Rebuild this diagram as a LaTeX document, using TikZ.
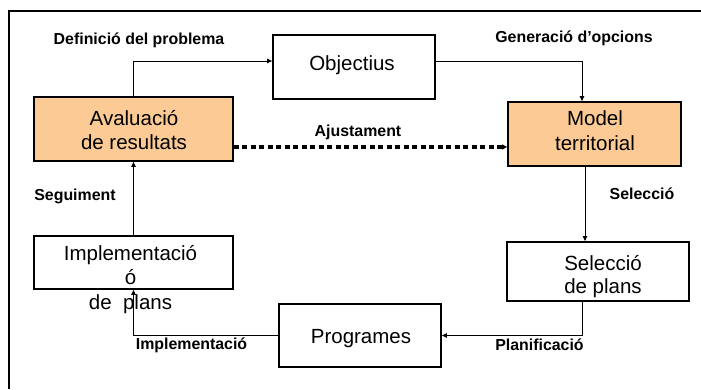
\documentclass[tikz,border=0pt]{standalone}
\usepackage{fontspec}
\setmainfont{Liberation Sans}
\usetikzlibrary{arrows.meta}
\definecolor{boxorange}{HTML}{FCCB95}
\tikzset{
  stagebox/.style={draw=black, line width=1.8pt, inner sep=0pt},
  stagetext/.style={align=center, inner sep=0pt, anchor=base,
    font=\fontsize{20.5}{24}\selectfont},
  flowlabel/.style={font=\fontsize{15.9}{19}\selectfont\bfseries, inner sep=0pt},
  flow/.style={line width=1pt, -{Triangle[length=5pt,width=4.5pt]}},
  adjust/.style={line width=3.2pt, dash pattern=on 5pt off 3.5pt,
    -{Triangle[length=5pt,width=5pt]}}
}
\begin{document}
\begin{tikzpicture}[x=1pt, y=-1pt]
  \useasboundingbox (0,0) rectangle (701,389);
  % outer frame, open to the right and bottom
  \draw[line width=1.6pt] (701,11) -- (9,11) -- (9,389);

  % stage boxes
  \node[stagebox, minimum width=162pt, minimum height=64pt] (obj) at (354,67) {};
  \node[stagebox, fill=boxorange, minimum width=199pt, minimum height=64pt] (aval) at (133.5,129) {};
  \node[stagebox, fill=boxorange, minimum width=173pt, minimum height=64pt] (model) at (594.5,134) {};
  \node[stagebox, minimum width=182pt, minimum height=59pt] (sel) at (598,271.5) {};
  \node[stagebox, minimum width=162pt, minimum height=63pt] (prog) at (360,335.5) {};
  \node[stagebox, minimum width=199pt, minimum height=53pt] (impl) at (133.5,262.5) {};

  % stage texts (anchored at the baseline of their last line)
  \node[stagetext] (objtext) at (352,70) {Objectius};
  \node[stagetext] (avaltext) at (134,149) {Avaluació\\de resultats};
  \node[stagetext, font=\fontsize{20.5}{25}\selectfont] (modeltext) at (595,150) {Model\\territorial};
  \node[stagetext, font=\fontsize{20.5}{23}\selectfont] (seltext) at (603,293) {Selecció\\de plans};
  \node[stagetext] (progtext) at (361,343) {Programes};
  \node[stagetext, font=\fontsize{20.5}{24.5}\selectfont] (impltext) at (130.5,309) {Implementació\\ó\\de\ \ plans};

  % connectors
  \draw[flow] (aval.north) |- ([yshift=6pt]obj.west);
  \draw[flow] ([yshift=6pt]obj.east) -| ([xshift=-12.5pt]model.north);
  \draw[flow] ([xshift=-9.5pt]model.south) -- ([xshift=-9.5pt]model.south |- sel.north);
  \draw[flow] ([xshift=-16pt]sel.south) |- (prog.east);
  \draw[flow] (prog.west) -| (impl.south);
  \draw[flow] (impl.north) -- (aval.south);
  \draw[adjust] ([yshift=-18pt]aval.east) -- ([yshift=-18pt]aval.east -| model.west);

  % connector labels
  \node[flowlabel] (lbldef) at (139,40) {Definició del problema};
  \node[flowlabel] (lblgen) at (574,38) {Generació d’opcions};
  \node[flowlabel] (lbladj) at (358,132) {Ajustament};
  \node[flowlabel] (lblsel) at (642,194) {Selecció};
  \node[flowlabel] (lblseg) at (75,196) {Seguiment};
  \node[flowlabel] (lblimp) at (191.5,345) {Implementació};
  \node[flowlabel] (lblpla) at (539.5,345) {Planificació};
\end{tikzpicture}
\end{document}
